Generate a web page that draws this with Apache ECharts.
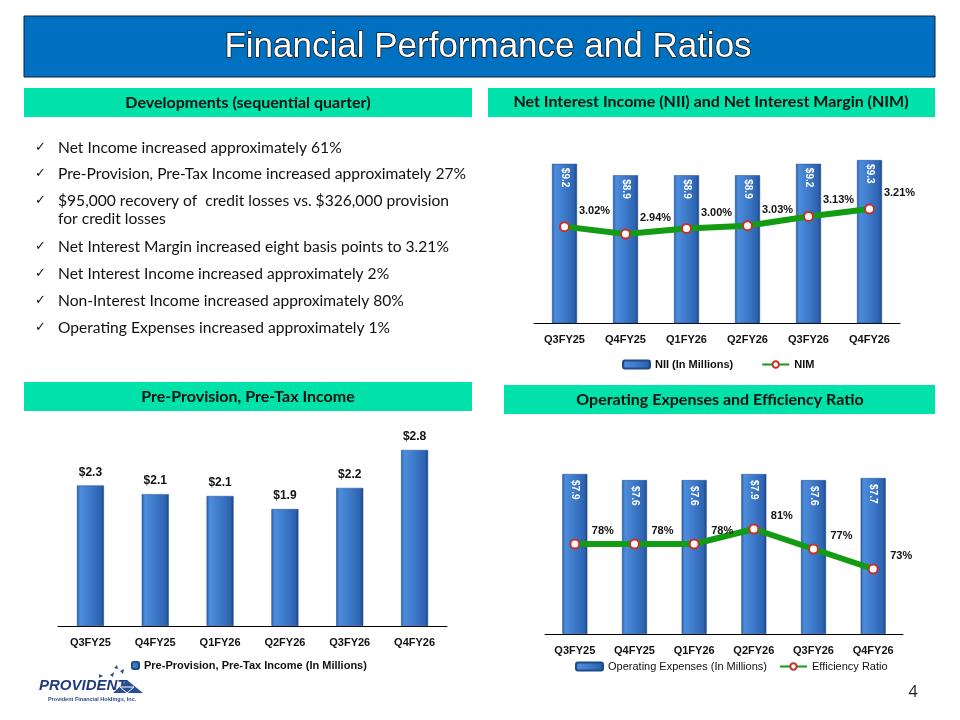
<!DOCTYPE html>
<html><head><meta charset="utf-8">
<script src="https://cdn.jsdelivr.net/npm/echarts@6/dist/echarts.min.js"></script>
<style>html,body{margin:0;padding:0;background:#fff}#c{width:960px;height:720px}</style>
</head><body><div id="c"></div>
<script>
const quarters = ['Q3FY25','Q4FY25','Q1FY26','Q2FY26','Q3FY26','Q4FY26'];
const niiValues = [9.2, 8.9, 8.9, 8.9, 9.2, 9.3];
const nimValues = [3.02, 2.94, 3.00, 3.03, 3.13, 3.21];
const pptiValues = [2.26, 2.12, 2.09, 1.88, 2.22, 2.83];
const opexValues = [7.9, 7.6, 7.6, 7.9, 7.6, 7.7];
const effValues = [78, 78, 78, 81, 77, 73];
const bullets = [
  'Net Income increased approximately 61%',
  'Pre-Provision, Pre-Tax Income increased approximately 27%',
  '$95,000 recovery of  credit losses vs. $326,000 provision\nfor credit losses',
  'Net Interest Margin increased eight basis points to 3.21%',
  'Net Interest Income increased approximately 2%',
  'Non-Interest Income increased approximately 80%',
  'Operating Expenses increased approximately 1%'
];
const bulletY = [148, 174, 201, 247, 274, 301, 328];

const chart = echarts.init(document.getElementById('c'), null, {renderer: 'canvas'});
const F = "'Liberation Sans', Arial, sans-serif";
const barColor = new echarts.graphic.LinearGradient(0, 0, 1, 0, [
  {offset: 0, color: '#2b5ea8'},
  {offset: 0.12, color: '#4d8ddb'},
  {offset: 0.5, color: '#3d79c9'},
  {offset: 0.88, color: '#2d63b0'},
  {offset: 1, color: '#1b4688'}
]);
const green = '#139c13';
const markerStyle = {color: '#ffffff', borderColor: '#c8302a', borderWidth: 2};
const axisLabel = {color: '#111', fontFamily: F, fontWeight: 'bold', fontSize: 11, margin: 11};
function xAxis(gi) {
  return {type: 'category', gridIndex: gi, data: quarters,
    axisLine: {lineStyle: {color: '#000', width: 1}}, axisTick: {show: false},
    axisLabel: axisLabel};
}
function yAxis(gi, min, max) {
  return {type: 'value', gridIndex: gi, min: min, max: max, show: false, splitLine: {show: false}};
}
const hdrFont = "bold 16px Lato, sans-serif";

const graphics = [
  {type: 'rect', shape: {x: 24, y: 16, width: 911, height: 61}, style: {fill: '#0070c0', stroke: '#0a1f3c', lineWidth: 1}},
  {type: 'text', x: 488, y: 47, style: {text: 'Financial Performance and Ratios', fill: '#ffffff', stroke: '#1a1a1a', lineWidth: 1.6,
    font: "35px 'Liberation Sans', Arial, sans-serif", align: 'center', verticalAlign: 'middle'}, z: 10},
  {type: 'rect', shape: {x: 24, y: 88, width: 448, height: 29}, style: {fill: '#00e2aa'}},
  {type: 'rect', shape: {x: 488, y: 88, width: 447, height: 29}, style: {fill: '#00e2aa'}},
  {type: 'rect', shape: {x: 24, y: 382, width: 448, height: 29}, style: {fill: '#00e2aa'}},
  {type: 'rect', shape: {x: 504, y: 385, width: 431, height: 29}, style: {fill: '#00e2aa'}},
  {type: 'text', x: 248, y: 103, style: {text: 'Developments (sequential quarter)', fill: '#111', font: hdrFont, align: 'center', verticalAlign: 'middle'}},
  {type: 'text', x: 711, y: 102, style: {text: 'Net Interest Income (NII) and Net Interest Margin (NIM)', fill: '#111', font: hdrFont, align: 'center', verticalAlign: 'middle'}},
  {type: 'text', x: 248, y: 397, style: {text: 'Pre-Provision, Pre-Tax Income', fill: '#111', font: hdrFont, align: 'center', verticalAlign: 'middle'}},
  {type: 'text', x: 720, y: 400, style: {text: 'Operating Expenses and Efficiency Ratio', fill: '#111', font: hdrFont, align: 'center', verticalAlign: 'middle'}},
  {type: 'text', x: 913, y: 692, style: {text: '4', fill: '#222', font: "16px 'Open Sans', sans-serif", align: 'center', verticalAlign: 'middle'}},
  // logo
  {type: 'text', x: 39, y: 686, style: {text: 'PROVIDENT', fill: '#1f3c7c', font: "italic bold 15px 'Liberation Sans', Arial, sans-serif", align: 'left', verticalAlign: 'middle'}},
  {type: 'text', x: 48, y: 699, style: {text: 'Provident Financial Holdings, Inc.', fill: '#2c4a86', font: "bold 5.5px 'Liberation Sans', Arial, sans-serif", align: 'left', verticalAlign: 'middle'}},
  {type: 'polygon', shape: {points: [[113, 693], [127, 680], [143, 693]]}, style: {fill: '#2a4f93'}},
  {type: 'polyline', shape: {points: [[120, 687], [127, 693], [134, 687], [120, 687]]}, style: {stroke: '#ffffff', lineWidth: 1, fill: null}},
  {type: 'polygon', shape: {points: [[110, 675], [114, 672], [113, 677]]}, style: {fill: '#2a4f93'}},
  {type: 'polygon', shape: {points: [[120, 671], [124, 669], [123, 674]]}, style: {fill: '#2a4f93'}},
  {type: 'polygon', shape: {points: [[99, 674], [103, 676], [99, 678]]}, style: {fill: '#2a4f93'}},
  {type: 'polygon', shape: {points: [[114, 668], [117, 665], [118, 669]]}, style: {fill: '#2a4f93'}}
];
bullets.forEach((b, i) => {
  graphics.push({type: 'text', x: 35, y: bulletY[i], style: {text: '\u2713', fill: '#111', font: "13px 'DejaVu Sans', sans-serif", align: 'left', verticalAlign: 'middle'}});
  graphics.push({type: 'text', x: 58, y: bulletY[i] - 9, style: {text: b, fill: '#111', font: "15.6px Lato, sans-serif", lineHeight: 18, align: 'left', verticalAlign: 'top'}});
});

const option = {
  animation: false,
  backgroundColor: '#ffffff',
  textStyle: {fontFamily: F},
  graphic: graphics,
  grid: [
    {left: 534, width: 366, top: 152.5, height: 170.5},
    {left: 58, width: 389, top: 439.4, height: 186.6},
    {left: 545, width: 358, top: 472, height: 162}
  ],
  xAxis: [xAxis(0), xAxis(1), xAxis(2)],
  yAxis: [yAxis(0, 5, 9.5), yAxis(0, 1.98, 3.82), yAxis(1, 0, 3), yAxis(2, 0, 8), yAxis(2, 60, 92.4)],
  legend: [
    {left: 622, top: 359, padding: 0, itemWidth: 27, itemHeight: 8, itemGap: 28, data: ['NII (In Millions)', 'NIM'],
      textStyle: {fontFamily: F, fontWeight: 'bold', fontSize: 11, color: '#111'}},
    {left: 131, top: 660, padding: 0, itemWidth: 7, itemHeight: 7, data: ['Pre-Provision, Pre-Tax Income (In Millions)'],
      textStyle: {fontFamily: F, fontWeight: 'bold', fontSize: 11, color: '#111'}},
    {left: 575, top: 661, padding: 0, itemWidth: 27, itemHeight: 8, itemGap: 12, data: ['Operating Expenses (In Millions)', 'Efficiency Ratio'],
      textStyle: {fontFamily: F, fontSize: 11, color: '#111'}}
  ],
  series: [
    {name: 'NII (In Millions)', type: 'bar', xAxisIndex: 0, yAxisIndex: 0, data: niiValues, barWidth: 25,
      itemStyle: {color: barColor, borderColor: '#1f4a8a', borderWidth: 0.5},
      label: {show: true, position: 'insideTop', distance: 4, rotate: -90, align: 'left', verticalAlign: 'middle',
        color: '#fff', fontWeight: 'bold', fontSize: 10, fontFamily: F, formatter: p => '$' + p.value.toFixed(1)}},
    {name: 'NIM', type: 'line', xAxisIndex: 0, yAxisIndex: 1, data: nimValues, z: 5,
      lineStyle: {color: green, width: 6}, itemStyle: markerStyle, symbol: 'circle', symbolSize: 9,
      label: {show: true, position: 'inside', offset: [30, -16], color: '#111', fontWeight: 'bold', fontSize: 11, fontFamily: F,
        formatter: p => p.value.toFixed(2) + '%'}},
    {name: 'Pre-Provision, Pre-Tax Income (In Millions)', type: 'bar', xAxisIndex: 1, yAxisIndex: 2, data: pptiValues, barWidth: 27,
      itemStyle: {color: barColor, borderColor: '#1f4a8a', borderWidth: 0.5},
      label: {show: true, position: 'top', distance: 7, color: '#111', fontWeight: 'bold', fontSize: 12, fontFamily: F,
        formatter: p => '$' + p.value.toFixed(1)}},
    {name: 'Operating Expenses (In Millions)', type: 'bar', xAxisIndex: 2, yAxisIndex: 3, data: opexValues, barWidth: 25,
      itemStyle: {color: barColor, borderColor: '#1f4a8a', borderWidth: 0.5},
      label: {show: true, position: 'insideTop', distance: 6, rotate: -90, align: 'left', verticalAlign: 'middle',
        color: '#fff', fontWeight: 'bold', fontSize: 10, fontFamily: F, formatter: p => '$' + p.value.toFixed(1)}},
    {name: 'Efficiency Ratio', type: 'line', xAxisIndex: 2, yAxisIndex: 4, data: effValues, z: 5,
      lineStyle: {color: green, width: 6}, itemStyle: markerStyle, symbol: 'circle', symbolSize: 9,
      label: {show: true, position: 'inside', offset: [28, -13], color: '#111', fontWeight: 'bold', fontSize: 11, fontFamily: F,
        formatter: p => p.value.toFixed(0) + '%'}}
  ]
};
chart.setOption(option);
</script></body></html>
